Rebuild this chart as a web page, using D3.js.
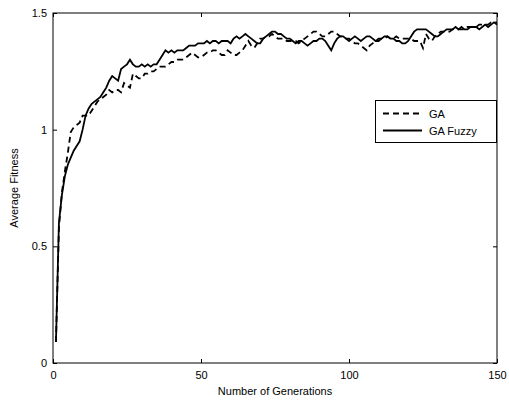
<!DOCTYPE html>
<html><head><meta charset="utf-8">
<script src="https://cdn.jsdelivr.net/npm/d3@7"></script>
<style>body{margin:0;background:#fff}svg{display:block}text{font-family:Arial,"Liberation Sans",sans-serif}</style>
</head><body>
<script>
const xTicks = [0, 50, 100, 150];
const yTicks = [0, 0.5, 1, 1.5];
const yTickLabels = ["0", "0.5", "1", "1.5"];
const seriesNames = ["GA", "GA Fuzzy"];
const gaValues = [0.09,0.58,0.73,0.82,0.90,0.99,1.01,1.02,1.03,1.06,
1.06,1.06,1.08,1.10,1.12,1.13,1.14,1.15,1.17,1.16,
1.17,1.17,1.16,1.20,1.19,1.18,1.24,1.23,1.22,1.22,
1.24,1.24,1.25,1.25,1.26,1.27,1.27,1.27,1.28,1.29,
1.29,1.30,1.30,1.30,1.31,1.32,1.33,1.32,1.31,1.31,
1.32,1.33,1.33,1.34,1.34,1.33,1.32,1.32,1.34,1.33,
1.32,1.32,1.33,1.34,1.36,1.38,1.36,1.35,1.37,1.39,
1.39,1.40,1.40,1.41,1.40,1.39,1.39,1.39,1.38,1.38,
1.38,1.38,1.37,1.38,1.39,1.40,1.41,1.42,1.42,1.41,
1.40,1.40,1.41,1.42,1.42,1.41,1.40,1.40,1.39,1.39,
1.38,1.37,1.37,1.36,1.35,1.34,1.36,1.37,1.38,1.39,
1.39,1.39,1.40,1.39,1.39,1.40,1.39,1.39,1.39,1.39,
1.39,1.38,1.38,1.38,1.35,1.41,1.39,1.38,1.40,1.41,
1.42,1.42,1.42,1.42,1.43,1.43,1.43,1.43,1.43,1.44,
1.44,1.44,1.44,1.45,1.45,1.45,1.45,1.46,1.46,1.46];
const gaFuzzyValues = [0.09,0.60,0.72,0.80,0.85,0.88,0.91,0.93,0.95,1.00,
1.06,1.09,1.11,1.12,1.13,1.14,1.16,1.18,1.21,1.23,
1.22,1.21,1.26,1.27,1.28,1.30,1.28,1.27,1.27,1.28,
1.27,1.28,1.27,1.28,1.28,1.30,1.32,1.34,1.33,1.34,
1.33,1.34,1.34,1.34,1.35,1.36,1.36,1.36,1.37,1.37,
1.37,1.38,1.37,1.38,1.38,1.37,1.38,1.38,1.38,1.37,
1.39,1.40,1.39,1.40,1.41,1.40,1.39,1.38,1.37,1.37,
1.39,1.40,1.41,1.42,1.42,1.41,1.41,1.40,1.39,1.39,
1.38,1.37,1.38,1.38,1.37,1.36,1.37,1.38,1.38,1.39,
1.39,1.38,1.36,1.34,1.37,1.39,1.40,1.40,1.39,1.38,
1.39,1.40,1.39,1.38,1.39,1.40,1.40,1.39,1.38,1.38,
1.39,1.40,1.40,1.39,1.39,1.38,1.38,1.37,1.37,1.38,
1.40,1.42,1.43,1.43,1.43,1.43,1.42,1.41,1.40,1.40,
1.41,1.42,1.43,1.43,1.43,1.44,1.43,1.44,1.43,1.43,
1.44,1.44,1.44,1.43,1.44,1.45,1.44,1.45,1.46,1.45];

const W = 509, H = 401;
const m = {left: 53, right: 497, top: 13, bottom: 363};
const svg = d3.select("body").append("svg").attr("width", W).attr("height", H);
const x = d3.scaleLinear().domain([0, 150]).range([m.left, m.right]);
const y = d3.scaleLinear().domain([0, 1.5]).range([m.bottom, m.top]);

const tl = 4;
// axes
const fmtY = (d, i) => yTickLabels[i];
const gB = svg.append("g").attr("transform", `translate(0,${m.bottom})`)
  .call(d3.axisBottom(x).tickValues(xTicks).tickSizeInner(-tl).tickSizeOuter(0).tickPadding(8));
const gT = svg.append("g").attr("transform", `translate(0,${m.top})`)
  .call(d3.axisTop(x).tickValues(xTicks).tickSizeInner(-tl).tickSizeOuter(0).tickFormat(""));
const gL = svg.append("g").attr("transform", `translate(${m.left},0)`)
  .call(d3.axisLeft(y).tickValues(yTicks).tickSizeInner(-tl).tickSizeOuter(0).tickPadding(6).tickFormat(fmtY));
const gR = svg.append("g").attr("transform", `translate(${m.right},0)`)
  .call(d3.axisRight(y).tickValues(yTicks).tickSizeInner(-tl).tickSizeOuter(0).tickFormat(""));
[gB, gT, gL, gR].forEach(g => {
  g.select(".domain").remove();
  g.selectAll("line").attr("stroke", "#000");
  g.selectAll("text").attr("fill", "#000").style("font-size", "11px");
});
svg.append("rect").attr("x", m.left).attr("y", m.top)
  .attr("width", m.right - m.left).attr("height", m.bottom - m.top)
  .attr("fill", "none").attr("stroke", "#000").attr("stroke-width", 1);

const line = d3.line().x((d, i) => x(i + 1)).y(d => y(d));
svg.append("path").datum(gaValues).attr("d", line)
  .attr("fill", "none").attr("stroke", "#000").attr("stroke-width", 1.8)
  .attr("stroke-dasharray", "6,4");
svg.append("path").datum(gaFuzzyValues).attr("d", line)
  .attr("fill", "none").attr("stroke", "#000").attr("stroke-width", 1.8);

// labels
svg.append("text").attr("x", (m.left + m.right) / 2).attr("y", 395)
  .attr("text-anchor", "middle").style("font-size", "11px").text("Number of Generations");
svg.append("text").attr("transform", `translate(18,${(m.top + m.bottom) / 2}) rotate(-90)`)
  .attr("text-anchor", "middle").style("font-size", "11px").text("Average Fitness");

// legend
const lg = svg.append("g");
lg.append("rect").attr("x", 375.5).attr("y", 100.5).attr("width", 121).attr("height", 42)
  .attr("fill", "#fff").attr("stroke", "#000").attr("stroke-width", 1);
const rows = [113.5, 130.5];
seriesNames.forEach((n, i) => {
  lg.append("line").attr("x1", 383).attr("x2", 422).attr("y1", rows[i]).attr("y2", rows[i])
    .attr("stroke", "#000").attr("stroke-width", 1.8)
    .attr("stroke-dasharray", i === 0 ? "6,4" : null);
  lg.append("text").attr("x", 429).attr("y", rows[i] + 4).style("font-size", "11px").text(n);
});
</script>
</body></html>
